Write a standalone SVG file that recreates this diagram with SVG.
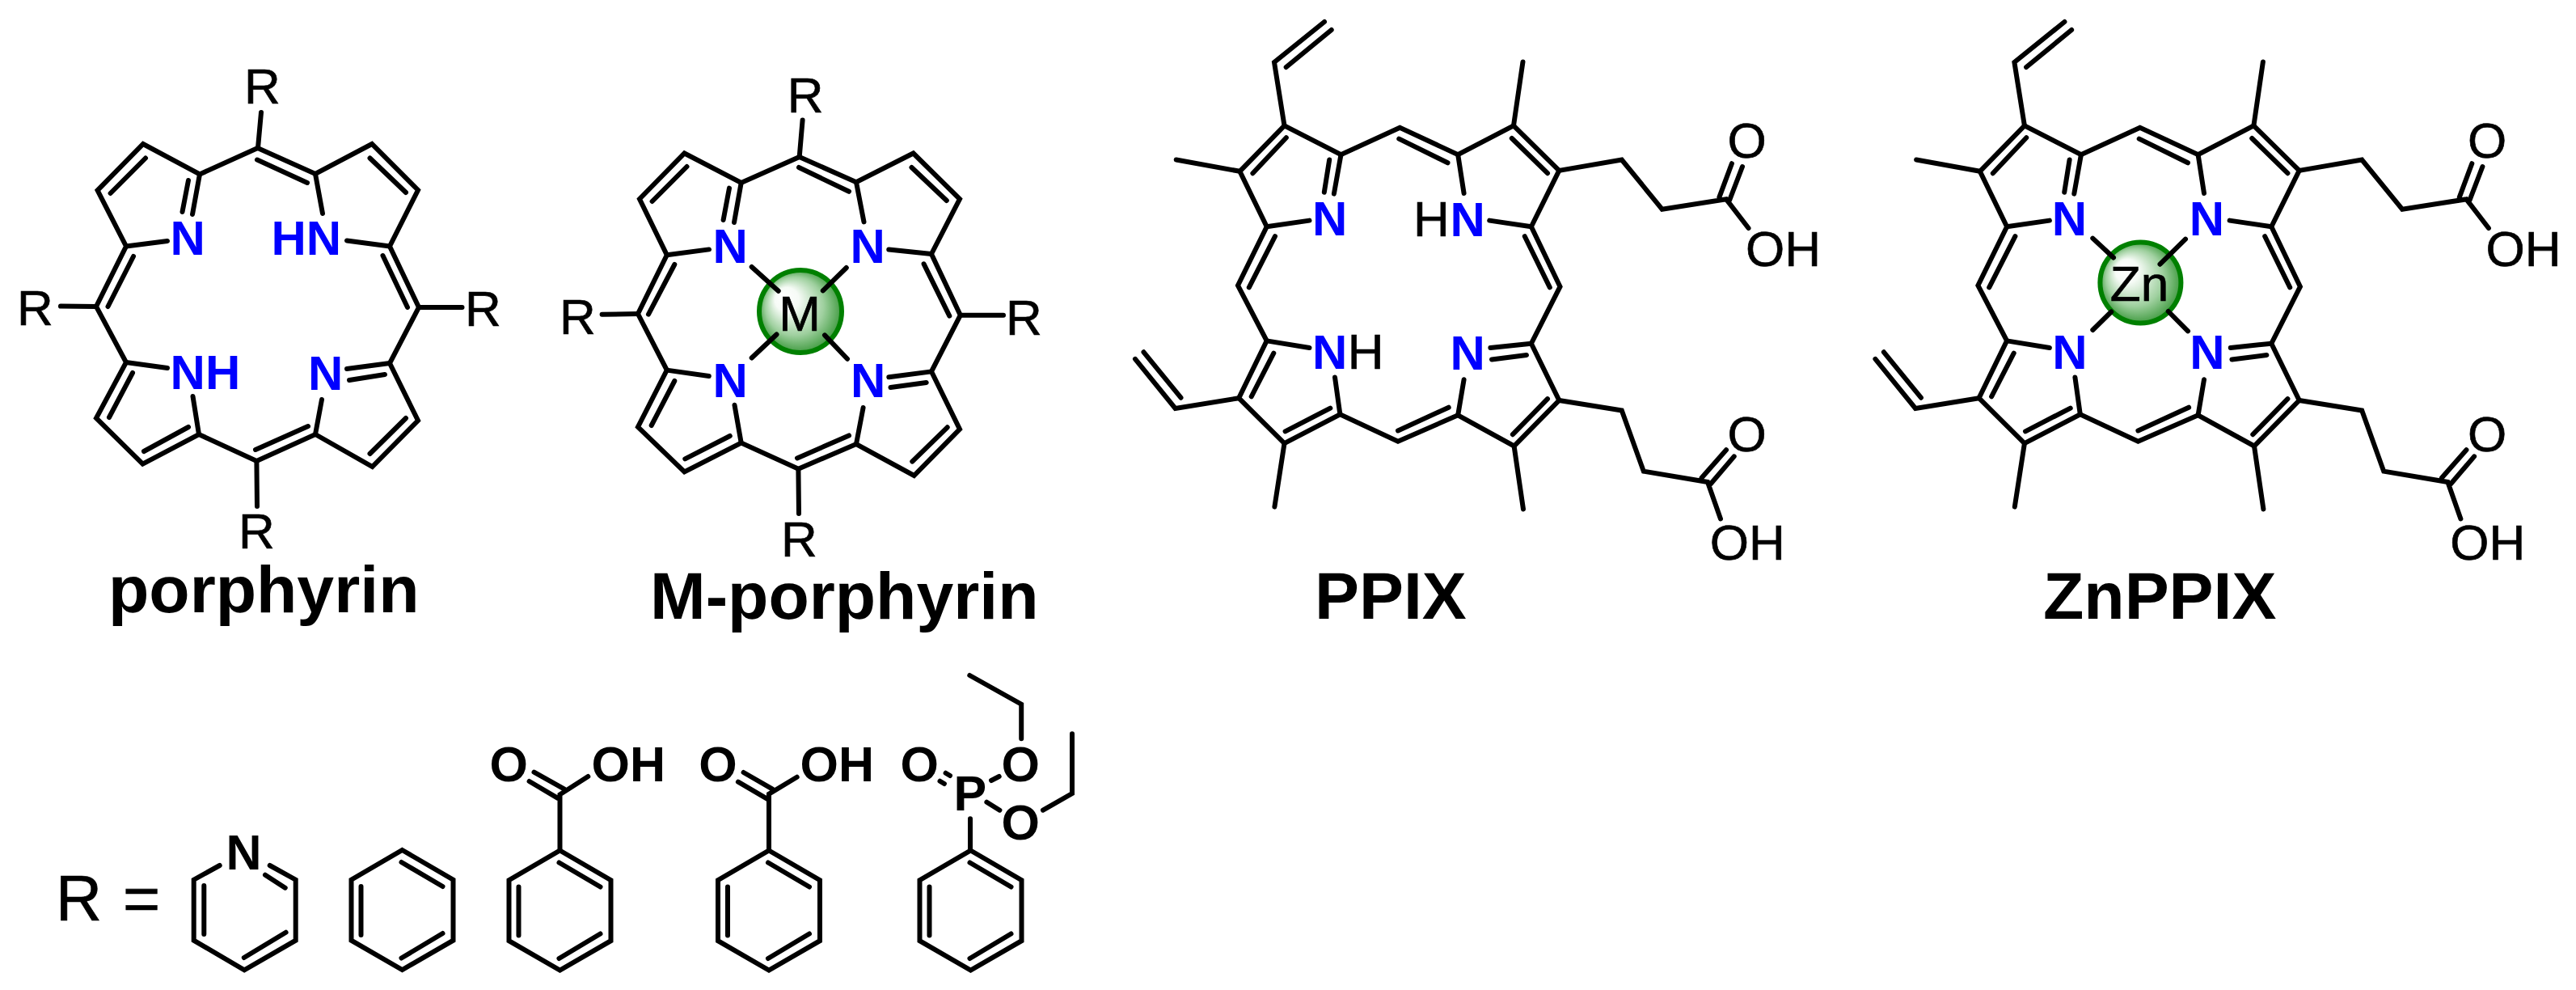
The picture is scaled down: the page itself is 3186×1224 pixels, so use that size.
<svg xmlns="http://www.w3.org/2000/svg" xmlns:xlink="http://www.w3.org/1999/xlink" width="3186" height="1224" viewBox="0 0 3186 1224">
<style>
.b{fill:none;stroke:#000;stroke-width:6;stroke-linecap:round;stroke-linejoin:miter}
text{font-family:"Liberation Sans",Arial,sans-serif}
.a{font-size:62px;fill:#000;stroke:#000;stroke-width:0.7}
.n{font-size:60px;font-weight:700;fill:#00f}
.k{font-size:61px;font-weight:700;fill:#000}
.t{font-size:82.4px;font-weight:700;fill:#000}
.ball{fill:url(#g);stroke:#008000;stroke-width:6}
</style>
<defs>
<radialGradient id="g" cx="0.5" cy="0.5" r="0.52" fx="0.27" fy="0.3">
<stop offset="0" stop-color="#fff"/><stop offset="0.28" stop-color="#f6fbf6"/><stop offset="0.68" stop-color="#9fd09f"/><stop offset="1" stop-color="#3a973a"/>
</radialGradient>
<g id="ph"><path class="b" d="M0,-75 L63,-38.3 L63,36.7 L0,73 L-63,36.7 L-63,-38.3 Z"/><path class="b" d="M-51,-30 V30 M-1,-60 L50,-30 M-1,58.5 L50,28"/></g>
<g id="ppix-skeleton">
<path class="b" d="M1731.4,157.8 L1658.5,191.2 L1588.5,155.4 L1533.4,211.8 L1566.7,280.2 L1531,353 L1566.7,421.4 L1532.2,492.2 L1588.5,548.2 L1657.4,512.3 L1729,545.8 L1803.2,513.3 L1872.6,551.5 L1928.3,495 L1893.9,424.7 L1929.5,354.4 L1893.9,280.2 L1928.3,210.9 L1872,155.4 L1803.2,191.2 Z"/>
<path class="b" d="M1658.5,191.2 L1649.9,239.6 M1644.2,197.5 L1637.8,237.7 M1566.7,280.2 L1619.5,272.6 M1803.2,191.2 L1810.6,239 M1893.9,280.2 L1842.2,272.6 M1566.7,421.4 L1619.5,430 M1657.4,512.3 L1651,466.4 M1893.9,424.7 L1843.4,430 M1888,439 L1845,444.4 M1803.2,513.3 L1810.6,469.2"/>
<path class="b" d="M1590.8,170.2 L1549.4,214.2 M1730.3,171.6 L1790.5,201.3 M1869.8,171 L1914,214.2 M1577,292.2 L1544.8,355.4 M1885.8,292.2 L1916.8,355.4 M1575.3,436.7 L1547.7,490.3 M1589.6,533.3 L1645.3,504.6 M1729,532.4 L1791.7,503.7 M1870.9,537.2 L1914,493.2"/>
<path class="b" d="M1588.5,155.4 L1576,76.9 L1638,27 M1590.7,83 L1646.7,37 M1533.4,211.8 L1454.7,197.5 M1872,155.4 L1883.5,76.4"/>
<path class="b" d="M1928.3,210.9 L2005.8,197.5 L2055.7,258.7 L2135,246.3 L2162.5,282 M2126.4,243.9 L2141.9,202.2 M2139,247.7 L2155,206"/>
<path class="b" d="M1532.2,492.2 L1453.6,505 L1404,443.9 M1460.5,491.7 L1414.5,435.3 M1588.5,548.2 L1576.4,626.6 M1872.6,551.5 L1884,629.5"/>
<path class="b" d="M1928.3,495 L2005.8,507.5 L2032.8,582.7 L2112,596 L2128,641.5 M2104.6,590.8 L2135,556.3 M2116,598 L2144.7,564.4"/>
<text class="a" x="2136.6" y="195">O</text><text class="a" x="2159" y="329">OH</text>
<text class="a" x="2136.6" y="557.7">O</text><text class="a" x="2114.8" y="691.7">OH</text>
</g>
</defs>

<g id="connectors">
<!-- porphyrin -->
<path class="b" d="M318.7,183 L247,215.4 L177,178 L120.6,235.3 L156,304.5 L119,379 L156,448 L119,517 L176.5,573.6 L246,537 L317.4,570 L390,537 L460.5,577 L517,520 L482,449 L518,380 L482,304.5 L517,235 L460,178 L390,215 Z"/>
<path class="b" d="M247,215.4 L238,265 M233,223 L225.5,262 M156,304.5 L207,298 M390,215 L399,264 M482,304.5 L429,297.5 M156,448 L207,455 M246,537 L238.5,490 M482,449 L429,456 M476,463 L432,470 M390,537 L398,494"/>
<path class="b" d="M180,195.5 L136.6,239 M318,197.5 L380,226 M457.5,195.5 L502,238 M165,317 L133.5,379 M473.5,316 L504,380 M164,461 L135,516 M178,558 L233,528 M316,556 L381,527 M457.5,561 L502,517"/>
<path class="b" d="M319,183 L323,139 M119,379 L75,378.6 M518,380 L571.5,380 M317.4,570 L318,626"/>
<!-- M-porphyrin -->
<path class="b" d="M988.7,194 L916.7,226 L846.5,189.5 L791,246 L824.8,315.3 L789,388 L824.8,457.6 L789,528 L846.5,583.4 L916.7,547.6 L987.4,579.7 L1059,549 L1130.5,588 L1187,530.6 L1152,459.4 L1187.8,389.7 L1152,314 L1187,246 L1129.6,189.5 L1059,225.3 Z"/>
<path class="b" d="M916.7,226 L908,275 M902,232.6 L894.6,272 M824.8,315.3 L877,308.4 M1059,225.3 L1068.5,274.4 M1152,314 L1099.3,308.4 M824.8,457.6 L876.8,465 M916.7,547.6 L908.5,500.8 M1152,459.4 L1099.3,466.3 M1145.7,473 L1101.5,479 M1059,549 L1067.6,504"/>
<path class="b" d="M849.5,206 L806.6,249 M988,207 L1050,236.8 M1127.5,207 L1170.8,248 M834.3,327 L802,388.7 M1142.6,326.3 L1174.3,390.6 M834.3,471 L805.7,526 M847.3,567.3 L902.8,539 M986,566.4 L1050,538.4 M1128.3,570.6 L1171.7,528.3"/>
<path class="b" d="M988.7,194 L992.6,148.6 M789,388 L744.6,388.7 M1187.8,389.7 L1241,389.7 M987.4,579.7 L988,635"/>
<!-- PPIX, ZnPPIX -->
<use xlink:href="#ppix-skeleton" href="#ppix-skeleton"/>
<use xlink:href="#ppix-skeleton" href="#ppix-skeleton" transform="translate(915.4,0)"/>
</g>

<g id="porphyrin">
<text class="a" x="302" y="128.4">R</text><text class="a" x="21" y="401.5">R</text><text class="a" x="575" y="403">R</text><text class="a" x="295" y="677.6">R</text>
<text class="n" x="210.6" y="315.4">N</text><text class="n" x="335.5" y="315.4">HN</text><text class="n" x="210.6" y="480.6">NH</text><text class="n" x="381" y="481.6">N</text>
<text class="t" x="134" y="757">porphyrin</text>
</g>

<g id="m-porphyrin">
<circle class="ball" cx="990" cy="385" r="51"/>
<path class="b" d="M929.7,330 L962.7,359.8 M1046.8,331 L1017.8,359.4 M960.5,413.5 L929.7,442.5 M1020,414.4 L1048,443.8"/>
<text class="a" x="989" y="409" text-anchor="middle">M</text>
<text class="a" x="973.7" y="139">R</text><text class="a" x="691.9" y="412.6">R</text><text class="a" x="1244" y="413.5">R</text><text class="a" x="966" y="687.6">R</text>
<text class="n" x="881.5" y="325">N</text><text class="n" x="1051.5" y="325">N</text><text class="n" x="881.5" y="490.7">N</text><text class="n" x="1052" y="491">N</text>
<text class="t" x="804" y="765">M-porphyrin</text>
</g>

<g id="ppix">
<text class="n" x="1623" y="290.8">N</text>
<text class="a" x="1748" y="291.7">H</text><text class="n" x="1793.4" y="291.7">N</text>
<text class="n" x="1623" y="455.8">N</text><text class="a" x="1666.7" y="455.8">H</text>
<text class="n" x="1793.4" y="456.8">N</text>
<text class="t" x="1626" y="765">PPIX</text>
</g>

<g id="znppix">
<circle class="ball" cx="2647.4" cy="349.6" r="50"/>
<path class="b" d="M2588.3,294.6 L2614,318.5 M2703,295.6 L2671.5,326.7 M2611.2,385.5 L2588.3,408 M2681.8,385 L2706,409.4"/>
<text class="a" x="2646" y="372" text-anchor="middle">Zn</text>
<text class="n" x="2537.8" y="290.8">N</text><text class="n" x="2707.7" y="290.8">N</text><text class="n" x="2538.3" y="455.8">N</text><text class="n" x="2708.3" y="456.3">N</text>
<text class="t" x="2527" y="765">ZnPPIX</text>
</g>

<g id="r-label"><text x="69" y="1138.3" font-size="79" word-spacing="4" stroke="#000" stroke-width="0.7">R =</text></g>

<g id="r-pyridyl">
<path class="b" d="M271.7,1070 L239.7,1087.7 V1162.7 L302.2,1199.3 L365.7,1162.7 V1087.7 L333.7,1070 M252.3,1095 V1155 M328,1081.7 L352.7,1097.7 M301.8,1184 L353.6,1152.7"/>
<text class="k" x="279.5" y="1075">N</text>
</g>

<g id="r-phenyl"><use xlink:href="#ph" href="#ph" transform="translate(497.5,1126)"/></g>

<g id="r-benzoic-1">
<use xlink:href="#ph" href="#ph" transform="translate(692.5,1126.5)"/>
<path class="b" d="M692.5,1052 V982.3 L727.3,960 M660.5,954.7 L698,975.7 M654.6,966 L689.5,986.7"/>
<text class="k" x="605.5" y="966">O</text><text class="k" x="731.5" y="966">OH</text>
</g>

<g id="r-benzoic-2">
<use xlink:href="#ph" href="#ph" transform="translate(951,1126.5)"/>
<path class="b" d="M951,1052 V981.7 L985.7,960.7 M919.6,955 L955.4,975.7 M912.9,966.7 L950,988.3"/>
<text class="k" x="864.3" y="966">O</text><text class="k" x="989.5" y="966">OH</text>
</g>

<g id="r-phosphonate">
<use xlink:href="#ph" href="#ph" transform="translate(1200.5,1126.5)"/>
<path class="b" d="M1200,1052 V1012.3 M1169.6,955.7 L1175,959 M1162.5,965.7 L1167.9,969 M1226,965 L1235.7,960 M1220.4,991.7 L1236.4,1001.7 M1263.2,913.3 V870.7 L1199.3,835 M1290,1001.7 L1326,981 V907.3"/>
<text class="k" x="1179.5" y="1002.3">P</text>
<text class="k" x="1113.5" y="966">O</text><text class="k" x="1238.5" y="966">O</text><text class="k" x="1238.5" y="1038">O</text>
</g>
</svg>
